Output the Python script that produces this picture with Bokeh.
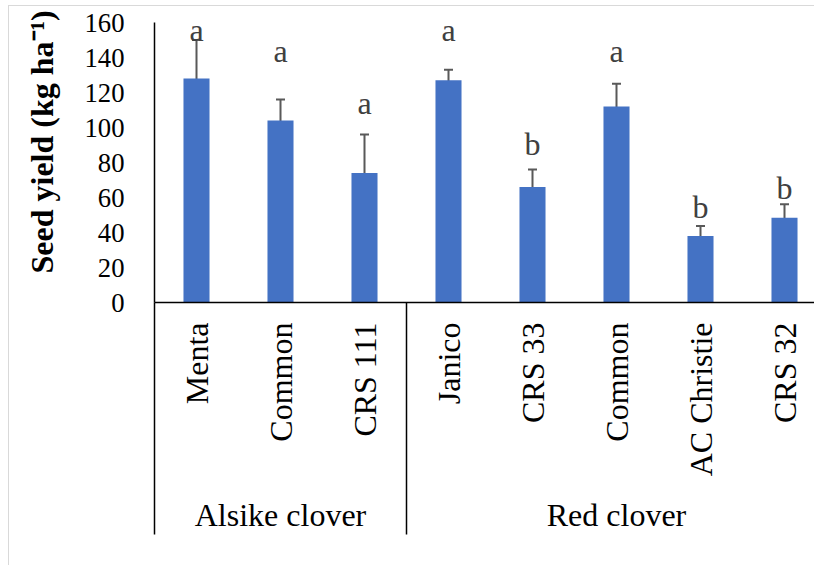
import math

from bokeh.core.properties import value
from bokeh.embed import file_html
from bokeh.models import (ColumnDataSource, FixedTicker, LinearAxis, Range1d,
                          TeeHead, Title, Whisker)
from bokeh.plotting import figure
from bokeh.resources import INLINE

# Seed yield of clover cultivars, grouped by species
groups = ["Alsike clover", "Red clover"]
group_sizes = [3, 5]
varieties = ["Menta", "Common", "CRS 111", "Janico", "CRS 33", "Common",
             "AC Christie", "CRS 32"]
seed_yield = [128, 104, 74, 127, 66, 112, 38, 48.5]
std_err = [22, 12, 22, 6, 10, 13, 5.7, 7.6]
letters = ["a", "a", "a", "a", "b", "a", "b", "b"]
y_ticks = [0, 20, 40, 60, 80, 100, 120, 140, 160]

# height (kg/ha) at which each significance letter is anchored
letter_pos = [155.5, 143.5, 114, 155.5, 90.5, 143.5, 54.5, 65.5]

FONT = "Liberation Serif"
BAR = "#4472C4"
ERR = "#595959"

xs = list(range(len(varieties)))
bounds, start = [], -0.5
for n in group_sizes:
    bounds.append(start)
    start += n
bounds.append(start)
group_centers = [(bounds[i] + bounds[i + 1]) / 2 for i in range(len(groups))]

src = ColumnDataSource(dict(
    x=xs,
    top=seed_yield,
    upper=[m + e for m, e in zip(seed_yield, std_err)],
    lower=[m - e for m, e in zip(seed_yield, std_err)],
    letter=letters,
    ly=letter_pos,
))

p = figure(
    width=814, height=565,
    x_range=Range1d(-0.5, -0.5 + 660 / 84),
    y_range=Range1d(0, 160),
    output_backend="svg", toolbar_location=None,
    min_border_left=154, min_border_top=22, min_border_bottom=263,
    min_border_right=0,
)
# light grey chart-area edge along the top and left
p.border_fill_color = None
p.styles = {
    "background": (
        "linear-gradient(#d9d9d9, #d9d9d9) 8px 5px / 1px 560px no-repeat, "
        "linear-gradient(#d9d9d9, #d9d9d9) 8px 5px / 806px 1px no-repeat, "
        "white"
    )
}
p.background_fill_color = "white"
p.outline_line_color = None
p.xgrid.visible = False
p.ygrid.visible = False

p.vbar(x="x", top="top", width=0.31, source=src, fill_color=BAR,
       line_color=None)

p.add_layout(Whisker(
    source=src, base="x", upper="upper", lower="lower",
    line_color=ERR, line_width=2,
    upper_head=TeeHead(size=9, line_color=ERR, line_width=2),
    lower_head=TeeHead(size=9, line_color=ERR, line_width=2),
))

p.text(x="x", y="ly", text="letter", source=src,
       text_font=value(FONT), text_font_size="32px", text_color="#404040",
       text_align="center", text_baseline="alphabetic")

# value axis
ya = p.yaxis[0]
ya.ticker = FixedTicker(ticks=y_ticks)
ya.major_label_text_font = FONT
ya.major_label_text_font_size = "26.7px"
ya.major_label_text_color = "black"
ya.major_tick_line_color = None
ya.minor_tick_line_color = None
ya.major_label_standoff = 24
ya.axis_line_color = "black"
ya.axis_line_width = 1.5

# cultivar axis
xa = p.xaxis[0]
xa.ticker = FixedTicker(ticks=xs, minor_ticks=[])
xa.major_label_overrides = {i: v for i, v in zip(xs, varieties)}
xa.major_label_orientation = math.pi / 2
xa.major_label_text_font = FONT
xa.major_label_text_font_size = "32px"
xa.major_label_text_color = "black"
xa.major_label_standoff = 20
xa.major_tick_line_color = None
xa.minor_tick_line_color = None
xa.major_tick_out = 0
xa.minor_tick_out = 0
xa.axis_line_color = "black"
xa.axis_line_width = 1.5

# species axis; its minor ticks are the group separators
ga = LinearAxis(
    ticker=FixedTicker(ticks=group_centers, minor_ticks=bounds[:-1]),
    major_label_overrides={c: g for c, g in zip(group_centers, groups)},
)
ga.axis_line_color = None
ga.major_tick_line_color = None
ga.major_tick_out = 0
ga.minor_tick_line_color = "black"
ga.minor_tick_line_width = 1.5
ga.minor_tick_in = 177
ga.minor_tick_out = 55
ga.major_label_text_font = FONT
ga.major_label_text_font_size = "32px"
ga.major_label_text_color = "black"
ga.major_label_standoff = -38
p.add_layout(ga, "below")

p.add_layout(Title(
    text="Seed yield (kg ha\u207b\u00b9)", align="left", offset=29,
    standoff=43, text_font=FONT, text_font_size="32px",
    text_font_style="bold", text_color="black",
), "left")

open("out.html", "w").write(file_html(p, INLINE))
